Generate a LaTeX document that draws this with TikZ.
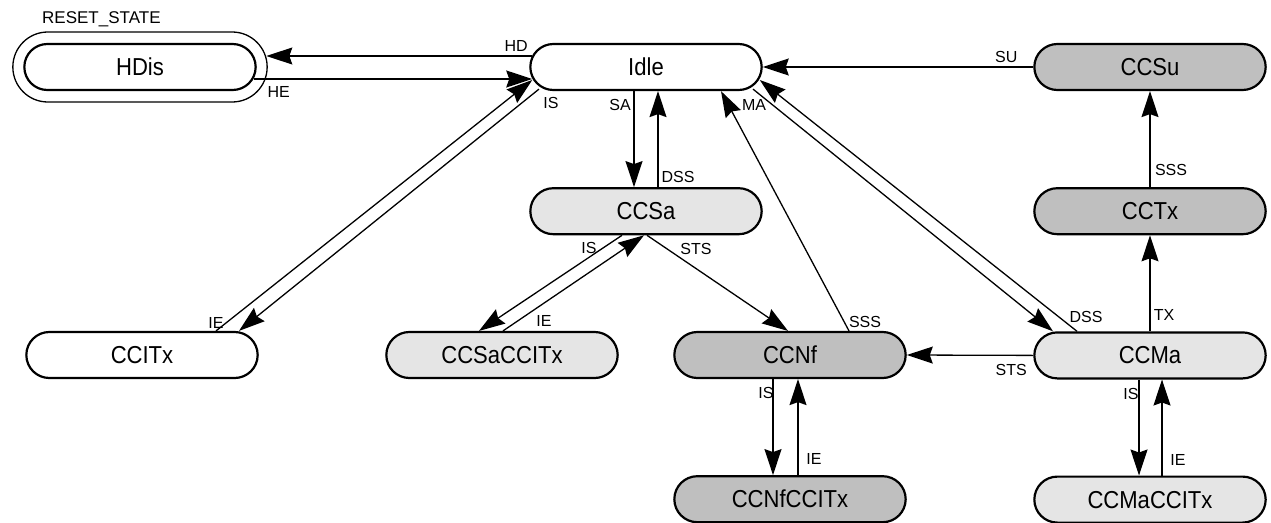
\documentclass[tikz,border=0pt]{standalone}
\usepackage{fontspec}
\setmainfont{Liberation Sans}
\newfontfamily\statefont[FakeStretch=0.9]{Liberation Sans}
\usepackage{tikz}
\usetikzlibrary{shapes.misc, arrows.meta, positioning, calc}

\definecolor{paleGray}{gray}{0.9}
\definecolor{midGray}{gray}{0.75}

\begin{document}
\begin{tikzpicture}[
    x=1pt, y=-1pt,
    st/.style={rounded rectangle, draw, line width=2.2pt, minimum width=238pt, minimum height=46pt, fill=#1, font=\statefont\fontsize{24.5}{24.5}\selectfont},
    st/.default=white,
    ring/.style={rounded rectangle, draw, line width=1.3pt, minimum width=261pt, minimum height=70pt},
    lbl/.style={font=\fontsize{16}{16}\selectfont, inner sep=1pt},
    arrow/.style={-{Stealth[length=26pt, width=17pt, inset=3pt]}, line width=1.3pt}
]
\useasboundingbox (0,0) rectangle (1271,522);

\node[st] (HDis) at (140,67) {HDis};
\node[ring] (reset) at (HDis) {};
\node[font=\fontsize{17}{17}\selectfont, inner sep=0pt, anchor=south west] (resetlbl) at ($(reset.north)+(-98,-4)$) {RESET\_STATE};

\node[st] (Idle) at (646,67) {Idle};
\node[st=midGray] (CCSu) at (1150,67) {CCSu};
\node[st=paleGray, below=96pt of Idle] (CCSa) {CCSa};
\node[st=midGray, below=96pt of CCSu] (CCTx) {CCTx};
\node[st] (CCITx) at (142,355) {CCITx};
\node[st=paleGray] (CCSaCCITx) at (502,355) {CCSaCCITx};
\node[st=midGray] (CCNf) at (790,355) {CCNf};
\node[st=paleGray, below=96pt of CCTx] (CCMa) {CCMa};
\node[st=midGray, below=96pt of CCNf] (CCNfCCITx) {CCNfCCITx};
\node[st=paleGray, below=96pt of CCMa] (CCMaCCITx) {CCMaCCITx};

% around Idle
\draw[arrow] ($(Idle.west)+(3,-11)$) -- ($(reset.east)+(-1.5,-11)$) node[lbl, pos=0, shift={(-16,-10)}] {HD};
\draw[arrow] ($(HDis.east)+(-3,12)$) -- ($(Idle.west)+(3,12)$) node[lbl, pos=0, shift={(25,13)}] {HE};
\draw[arrow] ($(Idle.south)+(-107,-2)$) -- ($(CCITx.north)+(97,0)$) node[lbl, pos=0, shift={(12,14)}] {IS};
\draw[arrow] ($(CCITx.north)+(74,0)$) -- ($(Idle.west)+(3,13)$) node[lbl, pos=0, shift={(0,-8)}] {IE};
\draw[arrow] ($(Idle.south)+(-12,0)$) -- ($(CCSa.north)+(-12,0)$) node[lbl, pos=0, shift={(-14,14)}] {SA};
\draw[arrow] ($(CCSa.north)+(12,0)$) -- ($(Idle.south)+(12,0)$) node[lbl, pos=0, shift={(20,-10)}] {DSS};
\draw[arrow] ($(CCNf.north)+(59,0)$) -- ($(Idle.south)+(75,0)$) node[lbl, pos=0, shift={(16,-9)}] {SSS};
\draw[arrow] ($(Idle.south)+(107,-2)$) -- ($(CCMa.north)+(-97,0)$) node[lbl, pos=0, shift={(1,16)}] {MA};
\draw[arrow] ($(CCMa.north)+(-73,0)$) -- ($(Idle.east)+(-3,13)$) node[lbl, pos=0, shift={(9,-14)}] {DSS};
\draw[arrow] (CCSu.west) -- (Idle.east) node[lbl, pos=0, shift={(-27,-10)}] {SU};

% CCSa
\draw[arrow] ($(CCSa.south)+(-24,0)$) -- ($(CCSaCCITx.north)+(-23,0)$) node[lbl, pos=0, shift={(-33,13)}] {IS};
\draw[arrow] ($(CCSaCCITx.north)+(1,0)$) -- ($(CCSa.south)+(-2,0)$) node[lbl, pos=0, shift={(41,-10)}] {IE};
\draw[arrow] ($(CCSa.south)+(1,0)$) -- ($(CCNf.north)+(-2,0)$) node[lbl, pos=0, shift={(49,14)}] {STS};

% right column
\draw[arrow] (CCTx.north) -- (CCSu.south) node[lbl, pos=0, shift={(21,-17)}] {SSS};
\draw[arrow] (CCMa.north) -- (CCTx.south) node[lbl, pos=0, shift={(14,-16)}] {TX};
\draw[arrow] (CCMa.west) -- (CCNf.east) node[lbl, pos=0, shift={(-22,15)}] {STS};

% interrupts
\draw[arrow] ($(CCNf.south)+(-17,0)$) -- ($(CCNfCCITx.north)+(-17,0)$) node[lbl, pos=0, shift={(-7,14)}] {IS};
\draw[arrow] ($(CCNfCCITx.north)+(8,0)$) -- ($(CCNf.south)+(8,0)$) node[lbl, pos=0, shift={(16,-16)}] {IE};
\draw[arrow] ($(CCMa.south)+(-11,0)$) -- ($(CCMaCCITx.north)+(-11,0)$) node[lbl, pos=0, shift={(-8,14)}] {IS};
\draw[arrow] ($(CCMaCCITx.north)+(12,0)$) -- ($(CCMa.south)+(12,0)$) node[lbl, pos=0, shift={(16,-16)}] {IE};

\end{tikzpicture}
\end{document}
